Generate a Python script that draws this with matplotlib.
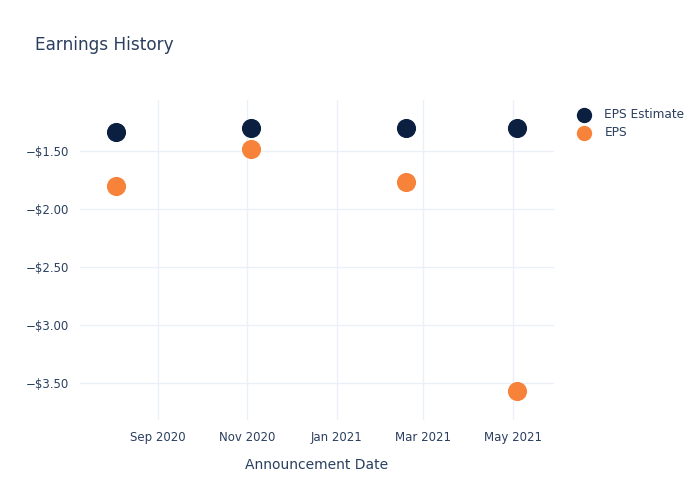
import matplotlib.pyplot as plt
import matplotlib.dates as mdates
import matplotlib.ticker as mticker
import pandas as pd

dates = pd.to_datetime(["2020-08-04", "2020-11-04", "2021-02-17", "2021-05-04"])
eps_estimate = [-1.34, -1.30, -1.30, -1.30]
eps_actual = [-1.80, -1.48, -1.77, -3.57]

text_col = "#2a3f5f"
grid_col = "#ebf0f8"

fig = plt.figure(figsize=(7, 5), dpi=100)
ax = fig.add_axes([0.114, 0.16, 0.677, 0.64])

ax.scatter(dates, eps_estimate, s=190, color="#0b1f41", label="EPS Estimate", zorder=3, linewidths=0)
ax.scatter(dates, eps_actual, s=190, color="#f7833a", label="EPS", zorder=3, linewidths=0)

ax.set_xlim(pd.Timestamp("2020-07-10"), pd.Timestamp("2021-05-29"))
ax.set_ylim(-3.82, -1.06)

ax.xaxis.set_major_locator(mdates.MonthLocator(bymonth=[1, 3, 5, 7, 9, 11]))
ax.xaxis.set_major_formatter(mdates.DateFormatter("%b %Y"))
ax.yaxis.set_major_locator(mticker.FixedLocator([-3.5, -3.0, -2.5, -2.0, -1.5]))
ax.yaxis.set_major_formatter(mticker.FuncFormatter(lambda v, p: "\u2212$%.2f" % abs(v)))

ax.grid(True, color=grid_col, linewidth=1)
ax.set_axisbelow(True)
for s in ax.spines.values():
    s.set_visible(False)
ax.tick_params(length=0, colors=text_col, labelsize=8.5, pad=8)

ax.set_xlabel("Announcement Date", color=text_col, fontsize=10, labelpad=10)
fig.text(0.05, 0.91, "Earnings History", color=text_col, fontsize=12.2, va="center")

leg = ax.legend(loc="upper left", bbox_to_anchor=(1.015, 1.01), frameon=False,
                fontsize=8.7, labelcolor=text_col, handletextpad=0.7,
                labelspacing=0.45, markerscale=0.8)

fig.savefig("out.png", dpi=100)
